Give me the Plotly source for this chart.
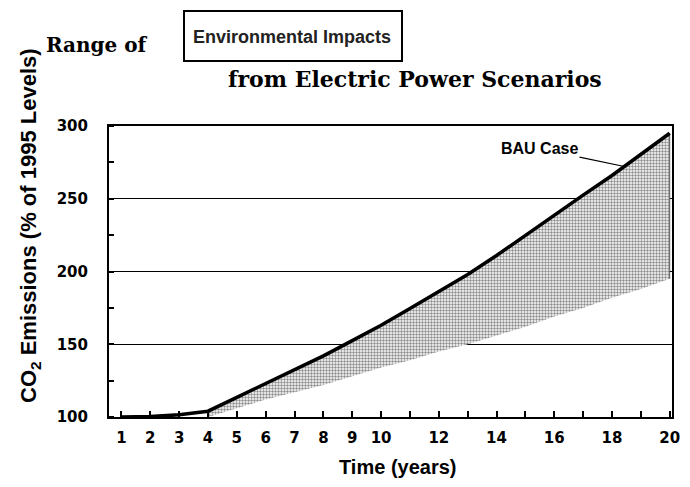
import plotly.graph_objects as go

# data
years = list(range(1, 21))
bau_case = [100, 100.3, 101.5, 104, 113.5, 123, 132.5, 142, 152.5, 163,
            174.5, 186, 198, 211, 225, 239, 252.5, 266, 280.5, 295]

range_years = list(range(4, 21))
range_low = [100, 106, 112, 117, 122, 128, 134, 139, 145, 150,
             156, 162, 169, 175, 182, 188, 195]
range_high = bau_case[3:]

x_tick_vals = years
x_tick_text = ["1", "2", "3", "4", "5", "6", "7", "8", "9", "10",
               "", "12", "", "14", "", "16", "", "18", "", "20"]
y_tick_vals = [100, 150, 200, 250, 300]

# the page body adds an 8px margin, so the figure is shrunk to fit the window
off = 8
W, H = 690 - off, 487 - off
# plot area in window pixels
left, right, top, bottom = 109, 672, 126, 417
pw, ph = right - left, bottom - top


def px(x):
    return (x - left) / pw


def py(y):
    return 1 - (y - top) / ph


sans = "Liberation Sans"
serif = "DejaVu Serif"
tick_font = dict(family="DejaVu Sans", size=15, color="black", weight="bold")

fig = go.Figure()

# stippled range between the lowest scenario and BAU
fig.add_trace(go.Scatter(
    x=range_years, y=range_low, mode="lines",
    line=dict(width=0, color="rgba(0,0,0,0)"),
    hoverinfo="skip", showlegend=False,
))
fig.add_trace(go.Scatter(
    x=range_years, y=range_high, mode="lines",
    line=dict(width=0, color="rgba(0,0,0,0)"),
    fill="tonexty",
    fillpattern=dict(shape=".", fgcolor="#1a1a1a", bgcolor="white",
                     size=3, solidity=0.5),
    hoverinfo="skip", showlegend=False,
))
# thin closing edge at the last year
fig.add_trace(go.Scatter(
    x=[range_years[-1], range_years[-1]], y=[range_low[-1], range_high[-1]],
    mode="lines", line=dict(width=1, color="#555555"),
    hoverinfo="skip", showlegend=False,
))
# BAU line
fig.add_trace(go.Scatter(
    x=years, y=bau_case, mode="lines",
    line=dict(width=3.5, color="black"),
    showlegend=False,
))

fig.add_annotation(
    x=18.47, y=272, xref="x", yref="y",
    text="<b>BAU Case</b>", showarrow=True, arrowhead=0, arrowwidth=1.2,
    arrowcolor="black", ax=-86, ay=-18, standoff=0,
    font=dict(family=sans, size=16, color="black"),
)

# title pieces
fig.add_annotation(
    x=px(97), y=py(45), xref="paper", yref="paper",
    xanchor="center", yanchor="middle", showarrow=False,
    text="<b>Range of</b>", font=dict(family=serif, size=20, color="black"),
)
fig.add_annotation(
    x=px(292), y=py(37), xref="paper", yref="paper",
    xanchor="center", yanchor="middle", showarrow=False,
    text="<b>Environmental Impacts</b>",
    font=dict(family=sans, size=18, color="#222222"),
)
fig.add_annotation(
    x=px(415), y=py(79), xref="paper", yref="paper",
    xanchor="center", yanchor="middle", showarrow=False,
    text="<b>from Electric Power Scenarios</b>",
    font=dict(family=serif, size=22, color="black"),
)
fig.add_shape(
    type="rect", xref="paper", yref="paper",
    x0=px(184), x1=px(402), y0=py(61), y1=py(11),
    line=dict(color="black", width=2),
)

# axis titles
fig.add_annotation(
    x=px(30), y=py(226), xref="paper", yref="paper",
    xanchor="center", yanchor="middle", showarrow=False, textangle=-90,
    text="<b>CO<sub>2</sub> Emissions (% of 1995 Levels)</b>",
    font=dict(family=sans, size=22, color="black"),
)
fig.add_annotation(
    x=px(397), y=py(467), xref="paper", yref="paper",
    xanchor="center", yanchor="middle", showarrow=False,
    text="<b>Time (years)</b>",
    font=dict(family=sans, size=20, color="black"),
)

fig.update_layout(
    width=W, height=H,
    margin=dict(l=left - off, r=690 - right, t=top - off, b=487 - bottom,
                autoexpand=False),
    paper_bgcolor="white", plot_bgcolor="white",
    showlegend=False,
)
fig.update_xaxes(
    range=[0.57, 20.08], tickvals=x_tick_vals, ticktext=x_tick_text,
    ticks="inside", ticklen=6, tickwidth=1.5, tickcolor="black",
    tickfont=tick_font, ticklabelstandoff=6, automargin=False,
    showgrid=False, zeroline=False,
    showline=True, mirror=True, linecolor="black", linewidth=2,
)
fig.update_yaxes(
    range=[100, 300], tickvals=y_tick_vals,
    ticks="", tickfont=tick_font, ticklabelstandoff=16, automargin=False,
    showgrid=True, gridcolor="black", gridwidth=1, zeroline=False,
    showline=True, mirror=True, linecolor="black", linewidth=2,
    minor=dict(dtick=25, tick0=125, ticks="inside", ticklen=5, tickwidth=1.5,
               tickcolor="black", showgrid=False),
)

fig.write_html("out.html")
